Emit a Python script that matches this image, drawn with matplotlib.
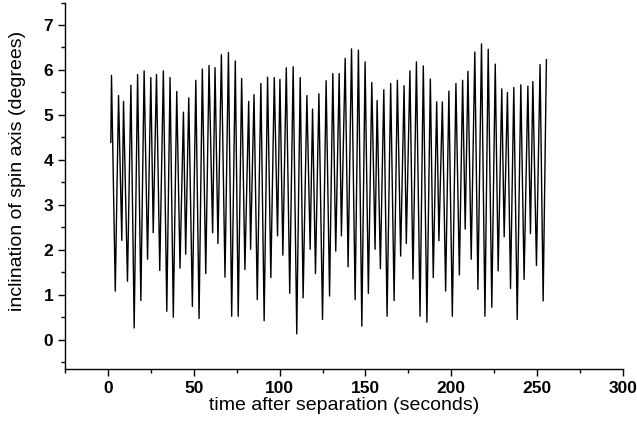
import matplotlib
matplotlib.use("Agg")
import matplotlib.pyplot as plt
from matplotlib.ticker import MultipleLocator

# turning points of the trace (time s, inclination deg)
time_s = [
    1.7, 2.1, 4.3, 6.2, 8.1, 9.1, 11.4, 13.4, 15.3, 17.3, 19.2, 21.1, 23.1, 25.0,
    26.4, 28.3, 30.2, 32.3, 34.3, 36.2, 38.1, 40.1, 42.0, 44.0, 45.3, 47.1, 49.2,
    51.2, 53.1, 55.0, 57.0, 58.9, 61.0, 62.4, 64.1, 66.1, 68.2, 70.2, 72.1, 74.2,
    75.9, 77.9, 79.8, 82.0, 83.1, 85.1, 87.0, 89.1, 91.0, 93.0, 94.9, 96.9, 98.8,
    100.2, 101.9, 103.9, 105.9, 107.9, 110.0, 112.0, 113.7, 115.9, 117.8, 119.2,
    120.9, 122.9, 125.0, 127.1, 129.1, 131.0, 132.7, 134.7, 136.0, 138.2, 139.9,
    141.9, 144.0, 145.9, 147.9, 149.8, 151.7, 153.7, 155.6, 156.8, 158.7, 160.7,
    162.6, 164.7, 166.7, 168.6, 170.5, 172.5, 173.8, 175.9, 177.7, 179.7, 181.8,
    183.7, 185.8, 187.8, 189.5, 191.5, 192.8, 194.8, 196.7, 198.6, 200.6, 202.7,
    204.7, 206.6, 208.1, 209.7, 211.6, 213.7, 215.5, 217.6, 219.6, 221.5, 223.6,
    225.6, 227.3, 229.4, 230.8, 232.7, 234.5, 236.4, 238.4, 240.5, 242.4, 244.6,
    246.1, 247.5, 249.6, 251.7, 253.5, 255.4,
]
inclination = [
    4.39, 5.88, 1.08, 5.43, 2.21, 5.30, 1.30, 5.66, 0.26, 5.90, 0.87, 5.98, 1.79, 5.83,
    2.38, 5.90, 1.54, 5.98, 0.63, 5.83, 0.50, 5.52, 1.59, 5.06, 1.90, 5.38, 0.74,
    5.77, 0.47, 6.02, 1.47, 6.10, 2.38, 6.05, 2.14, 6.34, 1.39, 6.39, 0.52, 6.20,
    0.52, 5.81, 1.56, 5.30, 2.01, 5.45, 0.89, 5.70, 0.42, 5.84, 1.38, 5.83, 2.31,
    5.79, 1.88, 6.05, 1.03, 6.07, 0.13, 5.83, 0.93, 5.43, 2.01, 5.13,
    1.47, 5.47, 0.45, 5.76, 0.97, 5.92, 1.97, 5.92, 2.31, 6.26, 1.62,
    6.47, 0.89, 6.44, 0.30, 6.18, 1.03, 5.72, 2.01, 5.32, 1.58, 5.56,
    0.52, 5.70, 0.87, 5.77, 1.86, 5.65, 2.14, 5.98, 1.35, 6.18, 0.52,
    6.09, 0.39, 5.80, 1.38, 5.29, 2.20, 5.29, 1.08, 5.53, 0.52, 5.70,
    1.44, 5.77, 2.46, 5.97, 1.79, 6.40, 1.12, 6.58, 0.52, 6.46, 0.72,
    6.13, 1.53, 5.58, 2.29, 5.50, 1.14, 5.61, 0.45, 5.67, 1.34, 5.64,
    2.36, 5.74, 1.65, 6.12, 0.86, 6.23,
]

plt.rcParams["font.family"] = ["Liberation Sans", "DejaVu Sans"]

fig = plt.figure(figsize=(6.37, 4.23), dpi=100)
ax = fig.add_axes([0.102, 0.128, 0.876, 0.866])

ax.plot(time_s, inclination, color="black", linewidth=1.0)

ax.set_xlim(-25, 300)
ax.set_ylim(-0.65, 7.5)
ax.xaxis.set_major_locator(MultipleLocator(50))
ax.xaxis.set_minor_locator(MultipleLocator(25))
ax.yaxis.set_major_locator(MultipleLocator(1))
ax.yaxis.set_minor_locator(MultipleLocator(0.5))

for side in ["top", "right"]:
    ax.spines[side].set_visible(False)
for side in ["left", "bottom"]:
    ax.spines[side].set_linewidth(1.0)

ax.tick_params(which="major", direction="out", length=5, width=1, labelsize=12.5)
ax.tick_params(which="minor", direction="out", length=3, width=1)
for lbl in ax.get_xticklabels() + ax.get_yticklabels():
    lbl.set_fontweight("bold")

ax.set_xlabel("time after separation (seconds)", fontsize=14, labelpad=1)
ax.set_ylabel("inclination of spin axis (degrees)", fontsize=14)
ax.yaxis.set_label_coords(-0.07, 0.54)

fig.savefig("out.png", dpi=100)
